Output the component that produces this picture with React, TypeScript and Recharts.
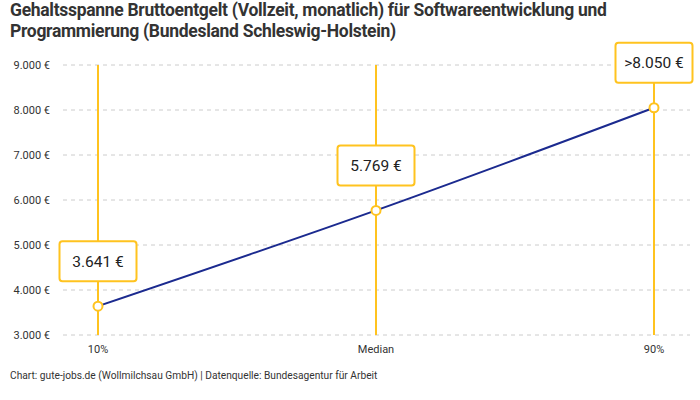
import React from "react";
import { LineChart, Line, XAxis, YAxis, CartesianGrid, ReferenceLine, LabelList } from "recharts";

const categories = ["10%", "Median", "90%"];
const salaries = [3641, 5769, 8050];
const boxLabels = ["3.641 €", "5.769 €", ">8.050 €"];
const yTicks = [3000, 4000, 5000, 6000, 7000, 8000, 9000];

const YELLOW = "#FFC31F";
const NAVY = "#1B2A8F";
const FONT = "Roboto, 'Noto Sans', sans-serif";

const data = categories.map((c, i) => ({ cat: c, value: salaries[i], label: boxLabels[i] }));

const fmtEuro = (v: number) => `${v.toLocaleString("de-DE")} €`;

function BoxLabel(props: any) {
  const { x, y, value } = props;
  const w = 77;
  const h = 40;
  const cy = y - 45;
  return (
    <g>
      <rect x={x - w / 2} y={cy - h / 2} width={w} height={h} rx={3} fill="#fff" stroke={YELLOW} strokeWidth={2} />
      <text x={x} y={cy} dy="0.35em" textAnchor="middle" fontSize={15.5} fontFamily={FONT} fill="#222">
        {value}
      </text>
    </g>
  );
}

function Dot(props: any) {
  const { cx, cy } = props;
  return <circle cx={cx} cy={cy} r={4.5} fill="#fff" stroke={YELLOW} strokeWidth={2} />;
}

export default function App() {
  return (
    <div style={{ position: "absolute", left: 0, top: 0, width: 700, height: 400, background: "#fff", fontFamily: FONT }}>
      <div
        style={{
          position: "absolute",
          left: 10,
          top: 0,
          width: 690,
          fontSize: 17.5,
          fontWeight: 700,
          lineHeight: "21px",
          color: "#333",
          letterSpacing: -0.3,
        }}
      >
        Gehaltsspanne Bruttoentgelt (Vollzeit, monatlich) für Softwareentwicklung und
        <br />
        Programmierung (Bundesland Schleswig-Holstein)
      </div>
      <div style={{ position: "absolute", left: 0, top: 0 }}>
        <LineChart width={700} height={400} data={data} margin={{ top: 65, right: 10, bottom: 35, left: 0 }}>
          <CartesianGrid vertical={false} stroke="#cccccc" strokeDasharray="4 4" />
          <XAxis
            dataKey="cat"
            axisLine={false}
            tickLine={false}
            tickSize={0}
            tickMargin={10}
            height={30}
            padding={{ left: 35, right: 36 }}
            tick={{ fontSize: 11, fill: "#333", fontFamily: FONT }}
          />
          <YAxis
            domain={[3000, 9000]}
            ticks={yTicks}
            width={63}
            axisLine={false}
            tickLine={false}
            tickSize={0}
            tickMargin={13}
            tickFormatter={fmtEuro}
            tick={{ fontSize: 11, fill: "#333", fontFamily: FONT }}
          />
          {categories.map((c) => (
            <ReferenceLine key={c} x={c} stroke={YELLOW} strokeWidth={2} />
          ))}
          <Line
            type="monotone"
            dataKey="value"
            stroke={NAVY}
            strokeWidth={2}
            dot={<Dot />}
            activeDot={false}
            isAnimationActive={false}
          >
            <LabelList dataKey="label" content={<BoxLabel />} />
          </Line>
        </LineChart>
      </div>
      <div style={{ position: "absolute", left: 10, top: 370, fontSize: 10.2, color: "#333" }}>
        Chart: gute-jobs.de (Wollmilchsau GmbH) | Datenquelle: Bundesagentur für Arbeit
      </div>
    </div>
  );
}
